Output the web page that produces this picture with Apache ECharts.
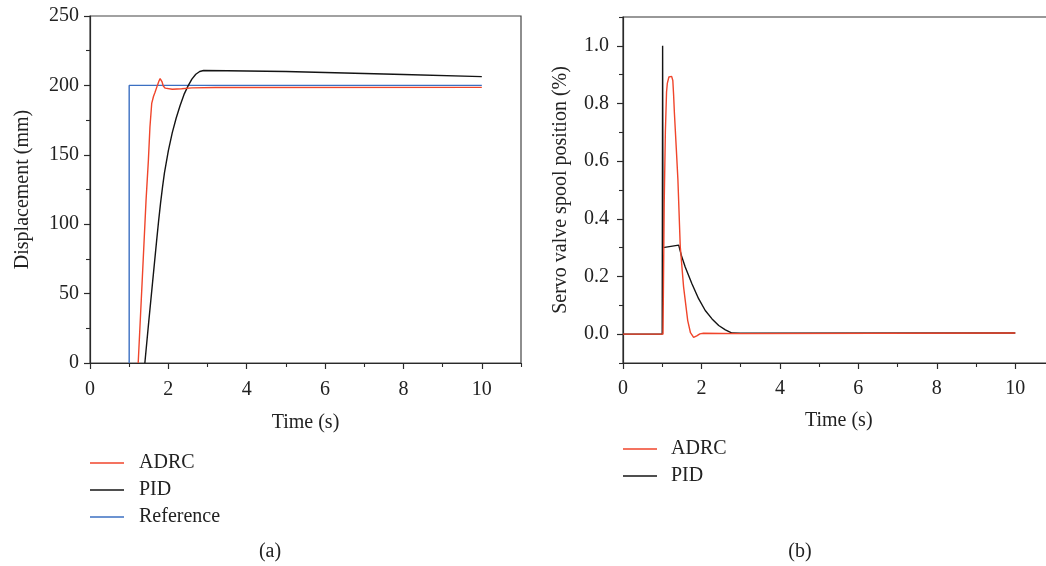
<!DOCTYPE html>
<html>
<head>
<meta charset="utf-8">
<script src="https://cdn.jsdelivr.net/npm/echarts@6/dist/echarts.min.js"></script>
<style>html,body{margin:0;padding:0;background:#fff}#c{width:1046px;height:566px}</style>
</head>
<body>
<div id="c"></div>
<script>
// ---------- data: panel (a) displacement ----------
const refT = [1, 1, 10];
const refV = [0, 200, 200];
const adrcDispT = [1.23, 1.33, 1.43, 1.49, 1.53, 1.575, 1.62, 1.66, 1.72, 1.76, 1.79, 1.81, 1.84, 1.87, 1.92, 1.96, 2.1, 2.34, 2.6, 3.2, 10];
const adrcDispV = [0, 58, 117, 146, 170, 187, 192, 195, 200, 203.2, 204.9, 204.7, 202.5, 199.6, 198, 197.4, 197.2, 197.6, 198.2, 198.5, 198.6];
const pidDispT = [1.40, 1.50, 1.60, 1.70, 1.75, 1.80, 1.85, 1.90, 2.00, 2.10, 2.20, 2.30, 2.40, 2.50, 2.60, 2.70, 2.80, 2.90, 3.5, 5, 6, 8, 10];
const pidDispV = [0, 30, 59, 88, 102, 115, 126.5, 137, 153, 166, 176.5, 185.5, 193.5, 199.5, 204.5, 208, 210, 210.7, 210.6, 210, 209.3, 207.8, 206.3];
// ---------- data: panel (b) servo valve spool position ----------
const adrcSpoolT = [0, 1.02, 1.05, 1.08, 1.11, 1.13, 1.17, 1.20, 1.24, 1.27, 1.29, 1.31, 1.36, 1.40, 1.46, 1.545, 1.65, 1.72, 1.80, 1.88, 1.96, 2.05, 3, 10];
const adrcSpoolV = [0, 0, 0.45, 0.70, 0.84, 0.87, 0.892, 0.896, 0.894, 0.88, 0.83, 0.768, 0.64, 0.535, 0.303, 0.163, 0.047, 0.005, -0.011, -0.006, 0.001, 0.003, 0.002, 0.004];
const pidSpoolT = [0, 1.0, 1.01, 1.02, 1.42, 1.486, 1.586, 1.757, 1.927, 2.097, 2.27, 2.44, 2.61, 2.78, 3, 10];
const pidSpoolV = [0, 0, 1.0, 0.30, 0.309, 0.274, 0.233, 0.175, 0.123, 0.082, 0.053, 0.030, 0.015, 0.004, 0.003, 0.004];
// ---------- ticks ----------
const xMajorTicks = [0, 2, 4, 6, 8, 10];
const xMinorTicksA = [1, 3, 5, 7, 9, 11];
const xMinorTicksB = [1, 3, 5, 7, 9];
const dispMajorTicks = [0, 50, 100, 150, 200, 250];
const dispMinorTicks = [25, 75, 125, 175, 225];
const spoolMajorTicks = [0, 0.2, 0.4, 0.6, 0.8, 1.0];
const spoolMinorTicks = [-0.1, 0.1, 0.3, 0.5, 0.7, 0.9, 1.1];
const legendA = ['ADRC', 'PID', 'Reference'];
const legendB = ['ADRC', 'PID'];

const FONT = 'Liberation Serif';
const TXT = '#222';
const AX = '#2a2a2a';
const RED = '#f0452b', BLACK = '#141414', BLUE = '#3b6fc2';

function zip(t, v) { return t.map((x, i) => [x, v[i]]); }

function majorAxis(o) {
  return Object.assign({
    type: 'value',
    axisLine: { show: true, onZero: false, lineStyle: { color: AX, width: 1.2 } },
    axisTick: { show: true, inside: false, length: 6, customValues: o.ticks, lineStyle: { color: AX, width: 1.2 } },
    axisLabel: { show: true, customValues: o.ticks, color: TXT, fontFamily: FONT, fontSize: 20, margin: o.margin, formatter: o.fmt },
    splitLine: { show: false },
    nameTextStyle: { color: TXT, fontFamily: FONT, fontSize: 20 },
    nameLocation: 'middle'
  }, o.extra);
}
function minorAxis(o) {
  return Object.assign({
    type: 'value',
    axisLine: { show: false, onZero: false },
    axisTick: { show: true, inside: false, length: 4, customValues: o.ticks, lineStyle: { color: AX, width: 1.1 } },
    axisLabel: { show: false },
    splitLine: { show: false }
  }, o.extra);
}

const chart = echarts.init(document.getElementById('c'), null, { renderer: 'canvas' });
chart.setOption({
  animation: false,
  backgroundColor: '#fff',
  textStyle: { fontFamily: FONT },
  grid: [
    { left: 90, top: 16, width: 431, height: 347, show: true, borderColor: '#444', borderWidth: 1.2, backgroundColor: 'transparent', outerBoundsMode: 'none', containLabel: false },
    { left: 623, top: 17, width: 431.5, height: 346, show: true, borderColor: '#333', borderWidth: 1.2, backgroundColor: 'transparent', outerBoundsMode: 'none', containLabel: false }
  ],
  xAxis: [
    majorAxis({ ticks: xMajorTicks, margin: 17, fmt: v => String(v), extra: { gridIndex: 0, min: 0, max: 11, position: 'bottom', name: 'Time (s)', nameGap: 50 } }),
    minorAxis({ ticks: xMinorTicksA, extra: { gridIndex: 0, min: 0, max: 11, position: 'bottom' } }),
    majorAxis({ ticks: xMajorTicks, margin: 16, fmt: v => String(v), extra: { gridIndex: 1, min: 0, max: 11, position: 'bottom', name: 'Time (s)', nameGap: 48 } }),
    minorAxis({ ticks: xMinorTicksB, extra: { gridIndex: 1, min: 0, max: 11, position: 'bottom' } })
  ],
  yAxis: [
    majorAxis({ ticks: dispMajorTicks, margin: 11, fmt: v => String(v), extra: { gridIndex: 0, min: 0, max: 250, position: 'left', name: 'Displacement (mm)', nameGap: 57 } }),
    minorAxis({ ticks: dispMinorTicks, extra: { gridIndex: 0, min: 0, max: 250, position: 'left' } }),
    majorAxis({ ticks: spoolMajorTicks, margin: 14, fmt: v => v.toFixed(1), extra: { gridIndex: 1, min: -0.1, max: 1.1, position: 'left', name: 'Servo valve spool position (%)', nameGap: 52 } }),
    minorAxis({ ticks: spoolMinorTicks, extra: { gridIndex: 1, min: -0.1, max: 1.1, position: 'left' } })
  ],
  legend: [
    { data: legendA, orient: 'vertical', left: 90, top: 453, padding: 0, icon: 'rect', itemWidth: 34, itemHeight: 1.5, itemGap: 7,
      textStyle: { color: TXT, fontFamily: FONT, fontSize: 20, padding: [0, 0, 0, 10] } },
    { data: legendB, orient: 'vertical', left: 623, top: 439, padding: 0, icon: 'rect', itemWidth: 34, itemHeight: 1.5, itemGap: 7,
      textStyle: { color: TXT, fontFamily: FONT, fontSize: 20, padding: [0, 0, 0, 9] } }
  ],
  series: [
    { name: 'Reference', type: 'line', xAxisIndex: 0, yAxisIndex: 0, data: zip(refT, refV), symbol: 'none', color: BLUE, lineStyle: { color: BLUE, width: 1.4 }, z: 2 },
    { name: 'PID', type: 'line', xAxisIndex: 0, yAxisIndex: 0, data: zip(pidDispT, pidDispV), symbol: 'none', color: BLACK, lineStyle: { color: BLACK, width: 1.4 }, z: 3 },
    { name: 'ADRC', type: 'line', xAxisIndex: 0, yAxisIndex: 0, data: zip(adrcDispT, adrcDispV), symbol: 'none', color: RED, lineStyle: { color: RED, width: 1.4 }, z: 4 },
    { name: 'PID', type: 'line', xAxisIndex: 2, yAxisIndex: 2, data: zip(pidSpoolT, pidSpoolV), symbol: 'none', color: BLACK, lineStyle: { color: BLACK, width: 1.4 }, z: 3 },
    { name: 'ADRC', type: 'line', xAxisIndex: 2, yAxisIndex: 2, data: zip(adrcSpoolT, adrcSpoolV), symbol: 'none', color: RED, lineStyle: { color: RED, width: 1.4 }, z: 4 }
  ],
  graphic: [
    { type: 'text', x: 270, y: 552, style: { text: '(a)', align: 'center', verticalAlign: 'middle', fill: TXT, font: '20px "Liberation Serif"' } },
    { type: 'text', x: 800, y: 552, style: { text: '(b)', align: 'center', verticalAlign: 'middle', fill: TXT, font: '20px "Liberation Serif"' } }
  ]
});
</script>
</body>
</html>
